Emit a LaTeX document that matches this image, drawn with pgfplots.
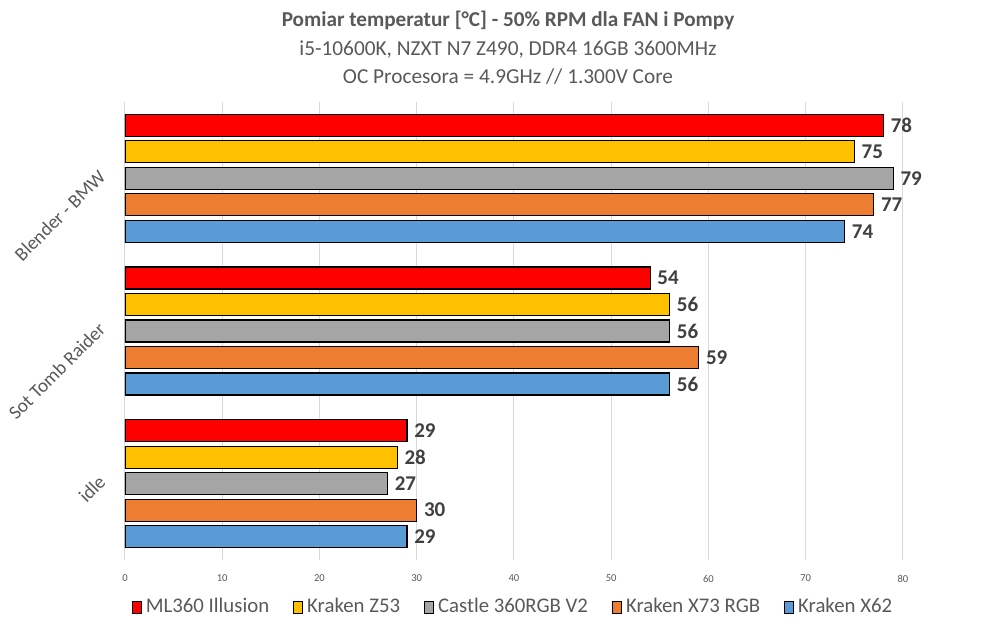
\documentclass[border=0pt]{standalone}
\usepackage{fontspec}
\setmainfont{Carlito}
\usepackage{pgfplots}
\pgfplotsset{compat=1.18}
\definecolor{txt}{HTML}{595959}
\definecolor{lab}{HTML}{404040}
\definecolor{cRed}{HTML}{FF0000}
\definecolor{cYel}{HTML}{FFC000}
\definecolor{cGry}{HTML}{A5A5A5}
\definecolor{cOra}{HTML}{ED7D31}
\definecolor{cBlu}{HTML}{5B9BD5}
\begin{document}
\begin{tikzpicture}[x=1pt,y=1pt]
\useasboundingbox (0,0) rectangle (495.5,313.5);
\node[font=\fontsize{10.6}{12}\selectfont\bfseries, text=txt] at (254,303.5) {Pomiar temperatur [°C] - 50\% RPM dla FAN i Pompy};
\node[font=\fontsize{10.65}{12}\selectfont, text=txt] at (254,288.5) {i5-10600K, NZXT N7 Z490, DDR4 16GB 3600MHz};
\node[font=\fontsize{10.65}{12}\selectfont, text=txt] at (254,275) {OC Procesora = 4.9GHz // 1.300V Core};
\begin{axis}[
  at={(62.5pt,33.5pt)}, anchor=south west,
  width=389pt, height=229pt, scale only axis,
  xbar, bar width=11pt,
  xmin=0, xmax=80, ymin=-0.5, ymax=2.5,
  ytick={0,1,2}, yticklabels={idle, Sot Tomb Raider, Blender - BMW},
  xtick={0,10,...,80},
  xmajorgrids, grid style={draw=black!15, line width=0.5pt},
  axis line style={draw=none},
  major tick length=0pt,
  /pgf/number format/assume math mode=true,
  xticklabel style={font=\fontsize{5.3}{6}\selectfont, text=txt, yshift=-4pt},
  yticklabel style={font=\fontsize{9.6}{11}\selectfont, text=txt, xshift=-9pt, yshift=5pt, rotate=45, anchor=east},
  nodes near coords,
  every node near coord/.append style={font=\fontsize{10.5}{12}\selectfont\bfseries, text=lab, xshift=0pt},
  legend style={at={(0.5,-0.103)}, anchor=center, draw=none, fill=none,
    font=\fontsize{10.4}{12}\selectfont, text=txt, legend columns=5,
    /tikz/every even column/.append style={column sep=10pt}},
  legend image code/.code={\draw[#1,draw=black,line width=0.5pt] (0pt,-3pt) rectangle (4.5pt,3pt);},
  legend cell align=left,
]
\addplot[draw=black, line width=0.6pt, bar shift=26.5pt, fill=cRed]
  coordinates {(29,0) (54,1) (78,2)};
\addplot[draw=black, line width=0.6pt, bar shift=13.25pt, fill=cYel]
  coordinates {(28,0) (56,1) (75,2)};
\addplot[draw=black, line width=0.6pt, bar shift=0pt, fill=cGry]
  coordinates {(27,0) (56,1) (79,2)};
\addplot[draw=black, line width=0.6pt, bar shift=-13.25pt, fill=cOra]
  coordinates {(30,0) (59,1) (77,2)};
\addplot[draw=black, line width=0.6pt, bar shift=-26.5pt, fill=cBlu]
  coordinates {(29,0) (56,1) (74,2)};
\legend{ML360 Illusion, Kraken Z53, Castle 360RGB V2, Kraken X73 RGB, Kraken X62}
\end{axis}
\end{tikzpicture}
\end{document}
